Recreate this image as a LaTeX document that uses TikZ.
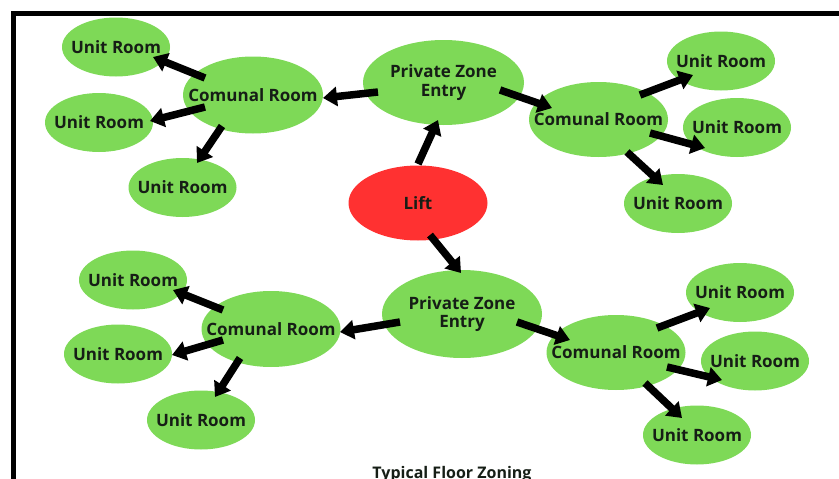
\documentclass[tikz,border=0pt]{standalone}
\usepackage{fontspec}
\setmainfont{Open Sans}
\usetikzlibrary{shapes.geometric,arrows.meta,calc}
\definecolor{zgreen}{HTML}{7ED957}
\definecolor{zred}{HTML}{FF3131}
\definecolor{ztext}{HTML}{161E16}
\begin{document}
\begin{tikzpicture}[x=1pt,y=-1pt,
  blob/.style={ellipse,draw=none,inner sep=0pt},
  unitbox/.style={blob,fill=zgreen,minimum width=108pt,minimum height=59pt},
  combox/.style={blob,fill=zgreen,minimum width=139pt,minimum height=76pt},
  pzbox/.style={blob,fill=zgreen,minimum width=160pt,minimum height=86pt},
  liftbox/.style={blob,fill=zred,minimum width=139pt,minimum height=75pt},
  lbl/.style={font=\bfseries\fontsize{17}{18.5}\selectfont,text=ztext,align=center,inner sep=0pt},
  arr/.style={line width=7.5pt,-{Triangle[length=14pt,width=19pt]}},
  frame/.style={line width=5pt,line cap=butt}]
\useasboundingbox (0,0) rectangle (839,479);
\draw[frame] (13.5,479) -- (13.5,13) -- (839,13);
% nodes
\node[liftbox] (L) at (418,203) {};
\node[pzbox,minimum width=161pt,minimum height=85pt] (P1) at (443.5,82.5) {};
\node[pzbox,minimum height=88pt] (P2) at (462,314) {};
\node[combox,minimum width=140pt,minimum height=77pt] (C1) at (253,95) {};
\node[combox,minimum height=75pt] (C2) at (598.5,119.5) {};
\node[combox] (C3) at (271,329) {};
\node[combox,minimum height=75pt] (C4) at (616,352.5) {};
\node[unitbox] (U1) at (116,47) {};
\node[unitbox] (U2) at (99,122.5) {};
\node[unitbox] (U3) at (182.5,187.5) {};
\node[unitbox] (U4) at (721,61) {};
\node[unitbox] (U5) at (737,127.5) {};
\node[unitbox] (U6) at (678,203.5) {};
\node[unitbox] (U7) at (133,280) {};
\node[unitbox] (U8) at (118,354) {};
\node[unitbox] (U9) at (201,420) {};
\node[unitbox] (U10) at (740,292.5) {};
\node[unitbox] (U11) at (755,361) {};
\node[unitbox] (U12) at (697,435) {};
% labels
\node[lbl] (Lt) at (L) {Lift};
\node[lbl] (P1t) at (P1) {Private Zone\\Entry};
\node[lbl] (P2t) at (P2) {Private Zone\\Entry};
\foreach \c in {C1,C2,C3,C4}{\node[lbl] (\c t) at (\c) {Comunal Room};}
\foreach \u in {U1,U2,U3,U4,U5,U6,U7,U8,U9,U10,U11,U12}{\node[lbl] (\u t) at (\u) {Unit Room};}
% arrows
\draw[arr] ($(L)+(0,-39)$) -- ($(P1)+(-5.5,37.5)$);
\draw[arr] ($(L)+(12,32)$) -- ($(P2)+(-1,-41)$);
\draw[arr] ($(P1)+(-65.5,9.5)$) -- ($(C1)+(70,3)$);
\draw[arr] ($(P1)+(56.5,7.5)$) -- ($(C2)+(-46.5,-11.5)$);
\draw[arr] ($(C1)+(-48,-17)$) -- ($(U1)+(37,10)$);
\draw[arr] ($(C1)+(-48,12)$) -- ($(U2)+(51,-1.5)$);
\draw[arr] ($(C1)+(-31,31)$) -- ($(U3)+(14.5,-24.5)$);
\draw[arr] ($(C2)+(41.5,-24.5)$) -- ($(U4)+(-28,14)$);
\draw[arr] ($(C2)+(51.5,13.5)$) -- ($(U5)+(-32,20.5)$);
\draw[arr] ($(C2)+(28.5,32.5)$) -- ($(U6)+(-15,-18.5)$);
\draw[arr] ($(P2)+(-62,8)$) -- ($(C3)+(69,3)$);
\draw[arr] ($(C3)+(-48,-19)$) -- ($(U7)+(40,10)$);
\draw[arr] ($(C3)+(-48,11)$) -- ($(U8)+(54,1)$);
\draw[arr] ($(C3)+(-31,29)$) -- ($(U9)+(14,-23)$);
\draw[arr] ($(P2)+(55,8)$) -- ($(C4)+(-46,-12.5)$);
\draw[arr] ($(C4)+(41,-24.5)$) -- ($(U10)+(-30,15.5)$);
\draw[arr] ($(C4)+(51,14.5)$) -- ($(U11)+(-33,19)$);
\draw[arr] ($(C4)+(29,30.5)$) -- ($(U12)+(-15,-17)$);
% caption
\node[font=\bfseries\fontsize{16}{18}\selectfont,text=ztext,anchor=base,inner sep=0pt] (cap) at (452,478) {Typical Floor Zoning};
\end{tikzpicture}
\end{document}
